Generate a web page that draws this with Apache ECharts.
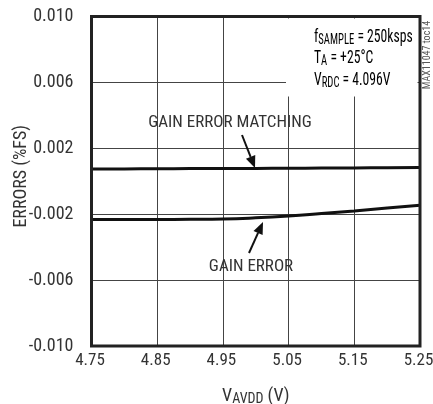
<!DOCTYPE html>
<html>
<head>
<meta charset="utf-8">
<script src="https://cdn.jsdelivr.net/npm/echarts@6/dist/echarts.min.js"></script>
<style>
html,body{margin:0;padding:0;background:#fff;}
#c{width:433px;height:404px;}
</style>
</head>
<body>
<div id="c"></div>
<script>
var FONT = "'Roboto Condensed','Liberation Sans Narrow',sans-serif";
var xValues = [4.75, 4.80, 4.85, 4.90, 4.95, 5.00, 5.05, 5.10, 5.15, 5.20, 5.25];
var gainErrorMatching = [0.00074, 0.00075, 0.00076, 0.00077, 0.00078, 0.00078, 0.00079, 0.00080, 0.00081, 0.00082, 0.00083];
var gainError = [-0.00232, -0.00232, -0.00232, -0.00231, -0.00229, -0.00222, -0.00211, -0.00196, -0.00180, -0.00162, -0.00145];
var xTicks = [4.75, 4.85, 4.95, 5.05, 5.15, 5.25];
var yTicks = [-0.010, -0.006, -0.002, 0.002, 0.006, 0.010];

function pairs(xs, ys){ return xs.map(function(x,i){ return [x, ys[i]]; }); }

var chart = echarts.init(document.getElementById('c'), null, {renderer:'canvas'});
var textColor = '#333';
var option = {
  animation: false,
  backgroundColor: '#fff',
  grid: {left: 91.5, right: 13, top: 16.5, bottom: 58, show: true, borderColor: '#222', borderWidth: 3,
         backgroundColor: 'transparent', z: 5, containLabel: false, outerBoundsMode: 'none'},
  xAxis: {
    type: 'value', min: xTicks[0], max: xTicks[xTicks.length-1], interval: 0.1,
    axisLine: {show: false}, axisTick: {show: false},
    splitLine: {show: true, lineStyle: {color: '#444', width: 1}},
    axisLabel: {color: textColor, fontFamily: FONT, fontSize: 17, margin: 6, padding: [0, 3, 0, 0],
                formatter: function(v){ return v.toFixed(2); }},
    name: '{a|V}{s|AVDD}{a| (V)}', nameLocation: 'middle', nameGap: 41, nameMoveOverlap: false,
    nameTextStyle: {rich: {
      a: {fontFamily: FONT, fontSize: 18, color: textColor},
      s: {fontFamily: FONT, fontSize: 14, color: textColor, padding: [5,0,0,0], verticalAlign: 'bottom'}
    }}
  },
  yAxis: {
    type: 'value', min: yTicks[0], max: yTicks[yTicks.length-1], interval: 0.004,
    axisLine: {show: false}, axisTick: {show: false},
    splitLine: {show: true, lineStyle: {color: '#444', width: 1}},
    axisLabel: {color: textColor, fontFamily: FONT, fontSize: 18, margin: 18, formatter: function(v){ return v.toFixed(3); }},
    name: 'ERRORS (%FS)', nameLocation: 'middle', nameRotate: 90, nameGap: 61, nameMoveOverlap: false,
    nameTextStyle: {fontFamily: FONT, fontSize: 18, color: textColor, padding: [0, 0, 0, 10]}
  },
  series: [
    {type: 'line', name: 'GAIN ERROR MATCHING', data: pairs(xValues, gainErrorMatching), showSymbol: false, smooth: true,
     lineStyle: {color: '#111', width: 3}, z: 3},
    {type: 'line', name: 'GAIN ERROR', data: pairs(xValues, gainError), showSymbol: false, smooth: true,
     lineStyle: {color: '#111', width: 3}, z: 3}
  ]
};
chart.setOption(option);

function arrow(x1,y1,x2,y2){
  var ang = Math.atan2(y2-y1, x2-x1);
  var L = 12, W = 5;
  var bx = x2 - L*Math.cos(ang), by = y2 - L*Math.sin(ang);
  var px = -Math.sin(ang)*W, py = Math.cos(ang)*W;
  return [
    {type:'line', shape:{x1:x1,y1:y1,x2:bx,y2:by}, style:{stroke:'#111', lineWidth:2}, z:10},
    {type:'polygon', shape:{points:[[x2,y2],[bx+px,by+py],[bx-px,by-py]]}, style:{fill:'#111'}, z:10}
  ];
}
var sub = {
  a: {fontFamily: FONT, fontSize: 18, color: textColor},
  s: {fontFamily: FONT, fontSize: 14, color: textColor, padding: [6,0,0,0], verticalAlign: 'bottom'}
};
var SX = 0.76;
var g = [
  {type:'rect', shape:{x: 286, y: 18.5, width: 131.5, height: 78}, style:{fill:'#fff'}, z: 4},
  {type:'text', x: 314, y: 27, scaleX: SX, z: 10, style:{text:'{a|f}{s|SAMPLE}{a| = 250ksps}', rich: sub}},
  {type:'text', x: 314, y: 48, scaleX: SX, z: 10, style:{text:'{a|T}{s|A}{a| = +25°C}', rich: sub}},
  {type:'text', x: 314, y: 70, scaleX: SX, z: 10, style:{text:'{a|V}{s|RDC}{a| = 4.096V}', rich: sub}},
  {type:'text', x: 230, y: 123, z: 10, style:{text:'GAIN ERROR MATCHING', fontFamily: FONT, fontSize: 17, fill: textColor, align:'center', verticalAlign:'middle'}},
  {type:'text', x: 251, y: 267, z: 10, style:{text:'GAIN ERROR', fontFamily: FONT, fontSize: 17, fill: textColor, align:'center', verticalAlign:'middle'}},
  {type:'text', x: 427, y: 55, rotation: Math.PI/2, z: 10, style:{text:'MAX11047 toc14', fontFamily: FONT, fontSize: 10, fill: '#555', align:'center', verticalAlign:'middle'}}
];
g = g.concat(arrow(242,135,255,168)).concat(arrow(249,253,263,222));
chart.setOption({graphic: g});
</script>
</body>
</html>
